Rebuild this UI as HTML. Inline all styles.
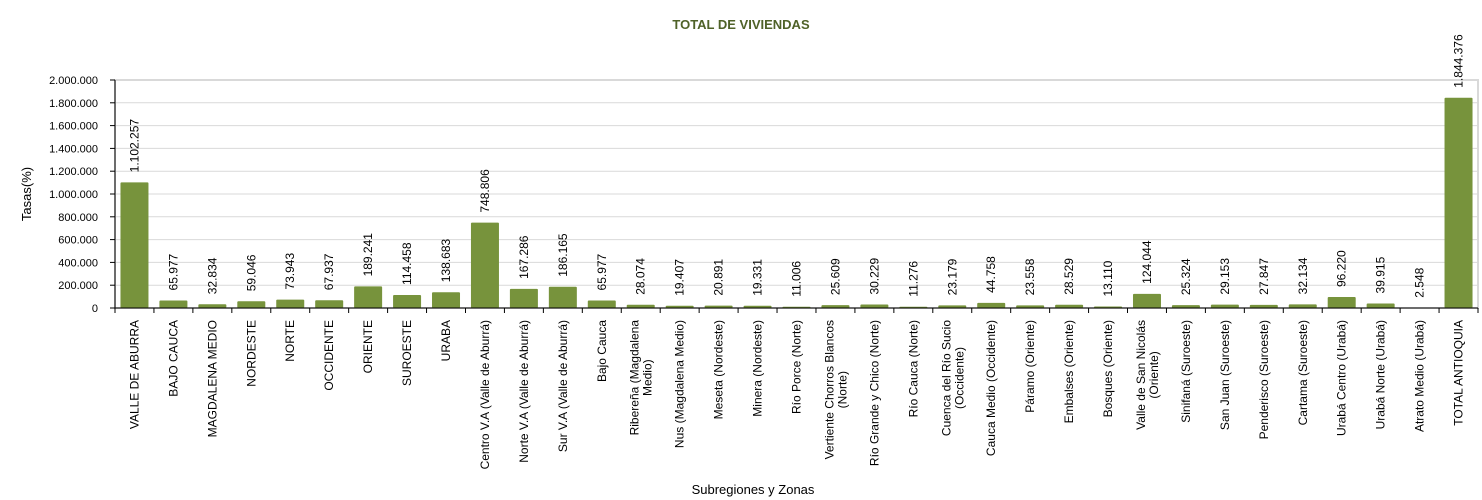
<!DOCTYPE html>
<html><head><meta charset="utf-8"><style>
body{margin:0;background:#fff;}
svg{display:block;font-family:"Liberation Sans",Arial,sans-serif;}
</style></head><body>
<svg id="c" width="1482" height="500">
<text x="741" y="29" text-anchor="middle" font-size="13" font-weight="bold" fill="#4f6228">TOTAL DE VIVIENDAS</text>
<text transform="translate(31,194) rotate(-90)" text-anchor="middle" font-size="13">Tasas(%)</text>
<text x="753" y="494" text-anchor="middle" font-size="13">Subregiones y Zonas</text>
<g id="grid"></g><g id="bars"></g><g id="axes"></g><g id="labels"></g>
</svg>
<script>
const categories=["VALLE DE ABURRA","BAJO CAUCA","MAGDALENA MEDIO","NORDESTE","NORTE","OCCIDENTE","ORIENTE","SUROESTE","URABA","Centro V.A (Valle de Aburrá)","Norte V.A (Valle de Aburrá)","Sur V.A (Valle de Aburrá)","Bajo Cauca","Ribereña  (Magdalena|Medio)","Nus  (Magdalena Medio)","Meseta  (Nordeste)","Minera  (Nordeste)","Río Porce   (Norte)","Vertiente Chorros Blancos|(Norte)","Río Grande y Chico  (Norte)","Río Cauca  (Norte)","Cuenca del Río Sucio|(Occidente)","Cauca Medio  (Occidente)","Páramo  (Oriente)","Embalses (Oriente)","Bosques  (Oriente)","Valle de San Nicolás|(Oriente)","Sinifaná  (Suroeste)","San Juan  (Suroeste)","Penderisco  (Suroeste)","Cartama  (Suroeste)","Urabá Centro  (Urabá)","Urabá Norte  (Urabá)","Atrato Medio  (Urabá)","TOTAL ANTIOQUIA"];
const values=[1102257,65977,32834,59046,73943,67937,189241,114458,138683,748806,167286,186165,65977,28074,19407,20891,19331,11006,25609,30229,11276,23179,44758,23558,28529,13110,124044,25324,29153,27847,32134,96220,39915,2548,1844376];
const valueLabels=["1.102.257","65.977","32.834","59.046","73.943","67.937","189.241","114.458","138.683","748.806","167.286","186.165","65.977","28.074","19.407","20.891","19.331","11.006","25.609","30.229","11.276","23.179","44.758","23.558","28.529","13.110","124.044","25.324","29.153","27.847","32.134","96.220","39.915","2.548","1.844.376"];
const yTicks=[0,200000,400000,600000,800000,1000000,1200000,1400000,1600000,1800000,2000000];
const yTickLabels=["0","200.000","400.000","600.000","800.000","1.000.000","1.200.000","1.400.000","1.600.000","1.800.000","2.000.000"];
const NS="http://www.w3.org/2000/svg";
const L=115,R=1478,T=80,B=308,yMax=2000000;
const y=v=>B-(v/yMax)*(B-T);
const bw=(R-L)/categories.length;
const x=i=>L+i*bw;
function mk(tag,attrs,parent){const e=document.createElementNS(NS,tag);for(const k in attrs)e.setAttribute(k,attrs[k]);document.getElementById(parent).appendChild(e);return e;}
const frame=mk('rect',{x:L,y:T,width:R-L,height:B-T,fill:'none',stroke:'#d9d9d9','stroke-width':2},'grid');


yTicks.forEach((t,i)=>{
  const g=mk('line',{x1:L,x2:R,y1:y(t),y2:y(t),stroke:'#d9d9d9'},'grid');
  
  
  const tk=mk('line',{x1:L-5,x2:L,y1:y(t),y2:y(t),stroke:'#000'},'axes');
  
  
  const tl=mk('text',{x:L-17,y:y(t)+4,'text-anchor':'end','font-size':11},'axes');
  tl.textContent=yTickLabels[i];
  
  
});
const ya=mk('line',{x1:L,x2:L,y1:T,y2:B,stroke:'#000'},'axes');


const xa=mk('line',{x1:L,x2:R,y1:B,y2:B,stroke:'#000'},'axes');


categories.forEach((c,i)=>{
  const cx=x(i)+bw/2, v=values[i];
  const b=mk('rect',{x:cx-14,y:y(v),width:28,height:B-y(v),fill:'#77933c',rx:1},'bars');
  
  
  const tk=mk('line',{x1:x(i),x2:x(i),y1:B,y2:B+5,stroke:'#000'},'axes');
  
  
  const vl=mk('text',{transform:`translate(${cx+4},${y(v)-10}) rotate(-90)`,'font-size':12},'labels');
  vl.textContent=valueLabels[i];
  
  
  const parts=c.split('|');
  if(parts.length===1){
    const t=mk('text',{transform:`translate(${cx+4},320) rotate(-90)`,'text-anchor':'end','font-size':12},'labels');
    t.textContent=c;
    
    
  } else {
    const t1=mk('text',{transform:`translate(${cx-2},320) rotate(-90)`,'text-anchor':'end','font-size':12},'labels');
    t1.textContent=parts[0];
    
    
    const len=t1.getComputedTextLength();
    const t2=mk('text',{transform:`translate(${cx+11},${320+len/2}) rotate(-90)`,'text-anchor':'middle','font-size':12},'labels');
    t2.textContent=parts[1];
    
    
  }
});
const tkE=mk('line',{x1:R,x2:R,y1:B,y2:B+5,stroke:'#000'},'axes');


</script>
</body></html>
